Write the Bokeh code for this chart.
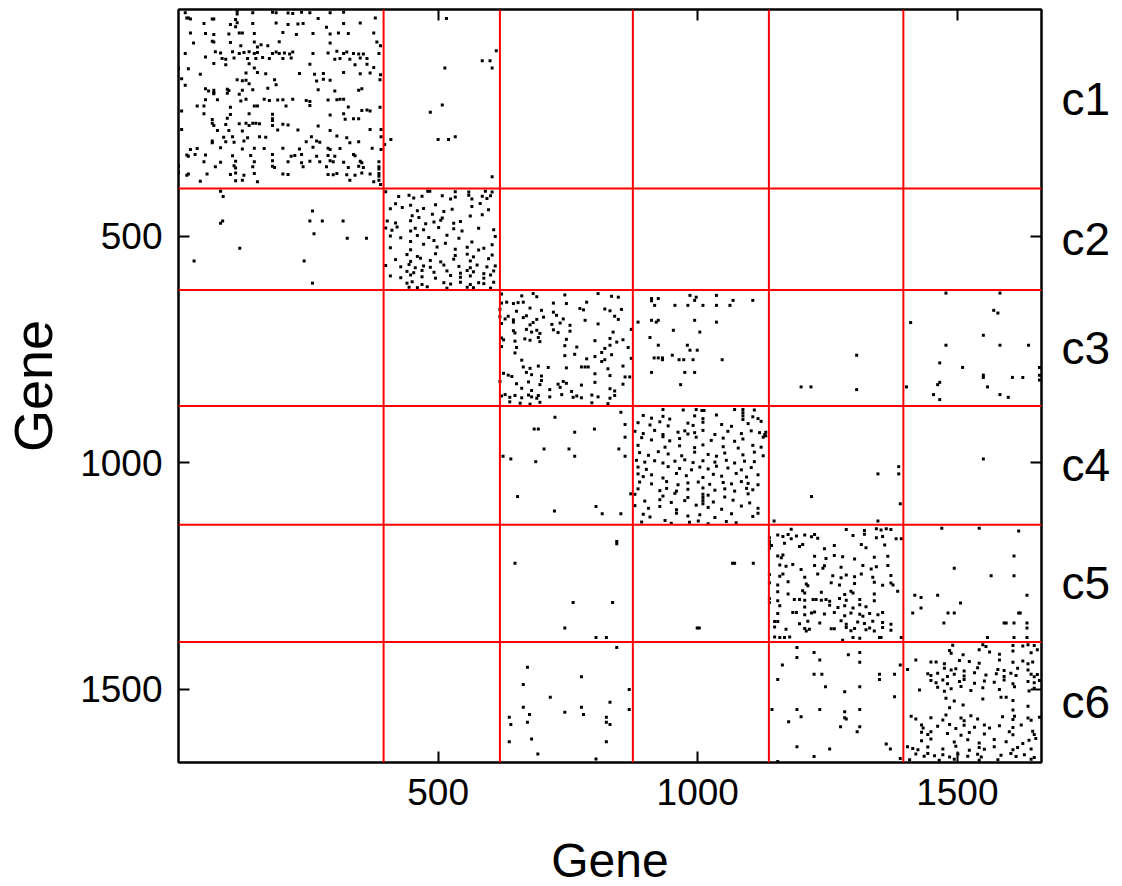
from bokeh.plotting import figure
from bokeh.models import Range1d, LinearAxis, FixedTicker, Span
from bokeh.embed import file_html
from bokeh.resources import INLINE

# ---------------- data ----------------
n_genes = 1662
boundaries = [395, 619, 875, 1137, 1396]
cluster_labels = ["c1", "c2", "c3", "c4", "c5", "c6"]
tick_values = [500, 1000, 1500]
axis_title = "Gene"

# non-zero entries (column gene, row gene), read per block
c1_c1 = [
(13,7),(113,4),(113,10),(143,7),(181,6),(188,7),(211,8),(220,9),(237,6),(253,7),(292,7),(318,6),
(16,19),(19,19),(23,21),(65,21),(68,21),(110,22),(269,20),(379,19),
(49,31),(100,33),(113,29),(143,31),(188,30),(211,33),(230,32),(240,31),(318,31),(350,30),
(110,38),(285,39),
(23,52),(52,53),(68,55),(97,54),(117,52),(123,52),(146,53),(201,51),(227,55),(259,53),(292,54),(308,52),(327,53),(376,52),
(29,74),(65,70),(68,72),(100,73),(146,72),(194,71),(292,74),(382,72),
(120,80),(159,78),(152,83),(172,80),(389,80),
(13,97),(71,93),(81,96),(104,93),(117,97),(126,95),(136,93),(146,97),(152,95),(181,97),(188,94),(194,97),(204,96),(214,98),(220,94),(259,97),(288,96),(305,92),(318,97),(324,94),(337,97),(347,98),(356,98),(386,97),
(52,105),(84,108),(91,110),(107,107),(133,108),(149,108),(162,106),(175,108),(201,108),(217,107),(301,110),(311,108),(330,110),(350,107),(363,108),
(68,119),(91,122),(136,120),(253,121),(340,122),(363,121),
(0,130),(19,131),(146,129),(376,128),
(42,143),(130,140),(152,139),(168,142),(233,141),(262,143),(279,141),(318,139),(350,142),(369,140),(389,144),
(6,153),(113,155),(123,157),(130,156),(185,155),(266,158),(279,154),(292,156),(388,155),
(13,167),(136,164),(188,166),
(52,175),(58,180),(68,178),(68,183),(94,176),(97,179),(123,178),(143,177),(172,174),(269,177),(301,180),(347,178),(353,175),
(68,186),(94,185),(117,187),
(52,199),(75,199),(120,202),(130,198),(165,198),(175,201),(191,200),(201,199),(220,198),(246,201),(253,203),(288,200),(305,199),(311,198),(318,198),
(36,213),(49,213),(100,216),(146,213),(152,213),(207,213),(253,212),(327,215),(388,216),
(6,224),(353,223),(363,222),(369,224),
(49,230),(100,232),(136,230),(181,231),(292,233),(318,230),
(65,243),(94,240),(181,241),(181,245),(321,242),(337,241),(347,241),
(65,251),(68,256),(91,254),(117,252),(130,251),(136,256),(143,251),(149,251),(156,252),(181,256),(201,253),(211,255),(269,257),
(6,265),(75,267),(97,267),(123,268),(191,266),(230,266),(292,267),(369,265),(390,265),
(87,282),(104,281),(133,283),(156,281),(168,282),(256,281),(305,279),(324,283),(390,281),
(65,290),(65,294),(91,292),(107,293),(126,290),(246,292),(266,290),(272,293),(330,294),(347,292),
(23,309),(36,307),(81,305),(123,308),(146,306),(165,307),(201,306),(233,308),(259,304),(288,306),(292,309),(311,307),(373,306),(390,309),
(16,321),(19,324),(32,320),(52,321),(104,323),(139,322),(181,320),(217,324),(224,322),(237,320),(266,324),(288,322),(301,324),(337,320),(340,323),
(49,336),(81,337),(110,335),(146,336),(181,334),(211,336),(237,338),(253,335),(272,336),(292,334),(298,336),(318,337),(350,335),(353,338),(386,336),
(0,346),(71,347),(107,345),(110,350),(143,347),(181,346),(185,349),(240,347),(285,347),(327,349),(347,346),(356,349),(386,347),(386,352),
(0,360),(19,363),(16,366),(55,363),(100,364),(110,361),(126,366),(146,362),(201,363),(211,364),(288,364),(298,365),(305,362),(324,365),(340,366),(353,361),(369,363),(386,362),(386,368),
(42,379),(110,378),(123,377),(152,380),(330,377),(376,380),(386,377),(389,386),
]
c1_c2 = [(516,20),(612,91),(585,113),(600,113),(513,129),(604,129),(508,211),(485,227),(500,287),(520,287),(533,281),(409,287),(397,298),(604,369)]
c2_c1 = [(81,401),(86,413),(258,445),(85,467),(81,472),(253,467),(277,467),(317,467),(261,495),(325,505),(362,505),(118,527),(30,555),(242,555),(258,604)]
c2_c2 = [
(399,402),(480,401),(484,401),(533,402),(559,403),(591,401),(604,403),
(424,413),(444,410),(453,416),(469,412),(508,411),(524,418),(533,414),(559,410),(565,418),(585,412),(594,417),(601,411),
(408,440),(418,429),(431,437),(447,432),(460,444),(472,439),(495,431),(511,446),(527,441),(565,435),(581,428),(597,442),
(450,455),(463,459),(489,452),(508,460),(562,456),(585,453),
(402,467),(418,471),(447,466),(476,473),(492,469),(505,465),(530,472),(543,468),
(399,482),(411,487),(421,480),(447,489),(456,483),(472,486),(501,481),(530,484),(546,489),(578,483),(607,486),
(408,500),(428,504),(460,499),(482,503),(517,498),(540,505),(610,501),
(447,512),(472,518),(492,510),(514,516),(565,513),(604,519),
(408,526),(447,530),(498,524),(533,529),(556,525),(578,531),(588,527),
(440,541),(460,545),(495,539),(533,543),(556,540),(568,546),(604,542),
(418,552),(447,556),(466,549),(485,554),(505,557),(530,551),(562,555),(597,550),
(399,565),(428,568),(444,563),(456,570),(472,566),(485,569),(511,564),(540,567),(562,570),(575,564),(594,568),(610,566),
(440,578),(453,581),(469,576),(492,580),(517,577),(543,582),(556,576),(568,579),(588,583),(607,577),
(408,588),(428,592),(447,586),(469,590),(495,593),(524,587),(543,591),(562,588),(588,593),(601,586),
(440,604),(450,601),(469,607),(511,603),(524,606),(543,602),(562,607),(578,603),(588,605),(607,602),
(444,613),(460,614),(479,612),(517,615),(556,613),(568,614),(601,615),
]
c3_c3 = [
(622,628),(661,632),(683,627),(690,634),(744,630),(808,627),(834,633),(847,635),
(622,648),(632,646),(645,649),(654,647),(664,646),(722,648),(747,649),(786,646),
(619,662),(651,666),(677,659),(699,664),(722,668),(773,660),(780,663),(821,661),(831,665),(853,662),
(619,678),(629,683),(635,677),(645,685),(664,680),(670,676),(690,684),(703,679),(728,675),(741,683),(783,686),(840,677),(847,684),
(622,693),(645,690),(677,696),(683,691),(719,695),(735,692),(754,697),(808,694),
(645,709),(648,714),(670,706),(680,712),(690,708),(696,715),(722,707),(731,713),(754,710),(837,712),(872,706),
(622,725),(626,729),(648,732),(667,727),(677,730),(693,724),(696,733),(747,728),(802,731),(831,726),(844,734),(856,729),
(622,744),(651,746),(744,742),(767,745),(821,748),(831,741),(866,746),
(648,758),(744,764),(763,761),(802,766),(815,757),(834,762),
(661,774),(786,771),(815,777),(821,773),(872,770),
(664,789),(677,792),(693,787),(712,790),(747,791),(776,789),(783,789),(789,789),(827,793),(856,787),
(626,803),(635,807),(642,810),(670,801),(680,806),(699,809),(802,804),(831,808),(860,811),(869,811),
(619,821),(651,826),(674,822),(696,828),(699,819),(731,827),(741,821),(747,825),(776,829),(802,823),(856,827),
(661,836),(680,841),(715,839),(735,834),(757,843),(831,837),(840,842),
(622,853),(629,850),(638,856),(648,852),(661,857),(674,851),(680,855),(690,858),(693,852),(715,855),(738,850),(760,856),(767,853),(776,857),(796,851),(808,855),(831,858),(840,852),
(638,866),(658,869),(677,871),(696,867),(796,868),(827,870),
]
c3_c4 = [(911,638),(911,643),(924,638),(985,631),(997,635),(994,642),(1036,631),(1068,642),(1106,642),(917,653),(956,653),(981,653),(1010,653),(1036,653),(1062,653),
(885,690),(911,686),(920,690),(924,686),(994,686),(1036,690),(953,708),(1004,712),(908,724),(924,741),(980,741),(985,752),(999,752),
(916,769),(924,769),(932,769),(932,773),(951,763),(964,773),(973,773),(991,773),(1047,773),(911,801),(975,801),(994,801),(967,828)]
c3_c5 = [(1306,763),(1199,833),(1218,833),(1306,839)]
c3_c6 = [(1478,626),(1582,626),(1570,664),(1578,670),(1410,691),(1550,719),(1478,741),(1582,741),(1637,741),(1466,780),(1510,790),(1658,790),
(1550,807),(1550,812),(1606,812),(1626,812),(1658,807),(1658,818),(1402,833),(1462,828),(1466,823),(1558,833),(1454,850),(1582,850),(1598,856),(1466,861)]
c4_c3 = [(852,889),(725,900),(685,926),(693,926),(763,933),(801,926),(860,916),(860,944),(704,970),(752,970),(848,970),(625,986),(640,992),(763,986),
(860,986),(688,998),(653,1075),(871,1069),(804,1097),(816,1113),(724,1107),(852,1113)]
c4_c4 = [
(933,883),(972,884),(997,883),(1008,885),(1012,885),(1071,883),(1087,883),(1087,890),(1087,897),(1109,884),
(895,896),(911,902),(933,898),(946,904),(994,897),(1010,903),(1036,895),(1087,905),(1106,899),(1116,903),
(885,912),(908,917),(927,910),(943,919),(981,913),(991,918),(1010,911),(1046,916),(1065,920),(1097,914),(1122,909),
(879,931),(895,936),(917,929),(933,938),(962,933),(975,930),(981,937),(994,934),(1010,929),(1033,938),(1058,931),(1084,936),(1103,930),(1119,934),(1129,938),
(892,945),(911,950),(933,943),(946,952),(965,947),(997,944),(1026,951),(1049,946),(1071,953),(1087,948),(1126,944),
(885,962),(937,966),(965,963),(994,967),(1010,961),(1049,965),(1078,968),(1106,962),(1122,966),
(888,978),(905,984),(924,976),(943,981),(969,985),(994,977),(1020,982),(1036,986),(1052,979),(1087,983),(1109,977),(1126,985),
(882,995),(898,999),(917,996),(933,1001),(956,997),(975,994),(991,1000),(1010,996),(1033,999),(1055,995),(1071,1001),(1090,997),(1109,998),
(885,1010),(901,1015),(943,1009),(965,1013),(988,1016),(1004,1010),(1020,1014),(1036,1008),(1058,1012),(1084,1016),(1103,1011),
(885,1025),(895,1031),(911,1027),(933,1034),(959,1024),(978,1029),(1010,1033),(1030,1026),(1046,1030),(1074,1024),(1094,1032),(1116,1027),
(888,1043),(911,1047),(940,1042),(962,1049),(981,1045),(1001,1043),(1023,1048),(1049,1044),(1065,1047),(1084,1042),(1097,1046),(1116,1049),
(885,1058),(927,1062),(940,1057),(959,1063),(981,1059),(1010,1056),(1033,1061),(1052,1058),(1071,1063),(1094,1057),(1106,1060),
(879,1070),(933,1074),(956,1068),(981,1077),(1010,1070),(1010,1077),(1010,1084),(1020,1072),(1052,1076),(1097,1069),
(898,1085),(927,1082),(949,1088),(975,1084),(1030,1087),(1068,1083),(1100,1089),(1010,1091),
(879,1095),(905,1101),(927,1097),(959,1104),(997,1094),(1020,1099),(1046,1103),(1084,1096),(1116,1101),
(895,1114),(908,1120),(959,1112),(981,1118),(1004,1115),(1033,1121),(1065,1113),(1106,1119),(1116,1112),
(892,1131),(937,1128),(949,1134),(984,1132),(1001,1129),(1020,1135),(1055,1130),(1074,1133),
]
c4_c5 = [(1131,933),(1131,941),(1347,1025),(1387,1009),(1387,1025),(1219,1075),(1390,1091),(1147,1129),(1347,1129)]
c4_c6 = [(1550,992)]
c5_c3 = [(844,1174),(844,1179),(648,1222),(760,1309),(836,1309),(744,1365),(804,1386),(824,1386)]
c5_c4 = [(1067,1222),(1071,1222),(1107,1222),(999,1365),(1003,1365)]
c5_c5 = [
(1180,1147),(1286,1148),(1321,1150),(1344,1146),(1353,1149),(1363,1146),(1372,1148),
(1138,1166),(1154,1160),(1164,1163),(1174,1159),(1180,1168),(1190,1162),(1206,1160),(1219,1164),(1225,1159),(1231,1167),(1299,1161),(1321,1158),(1344,1166),(1356,1163),(1382,1168),(1392,1168),
(1138,1180),(1142,1183),(1167,1178),(1196,1185),(1202,1181),(1244,1190),(1263,1183),(1315,1181),(1324,1188),(1360,1182),
(1154,1206),(1161,1210),(1164,1204),(1225,1207),(1247,1212),(1263,1205),(1279,1208),(1302,1213),(1340,1209),(1366,1207),
(1158,1226),(1170,1229),(1183,1225),(1199,1236),(1225,1227),(1241,1233),(1244,1228),(1276,1231),(1318,1227),(1334,1235),(1344,1230),(1366,1227),
(1138,1247),(1158,1251),(1164,1246),(1206,1253),(1231,1246),(1260,1250),(1276,1254),(1286,1248),(1302,1252),(1315,1246),(1337,1253),(1372,1249),
(1138,1265),(1154,1270),(1174,1263),(1209,1268),(1212,1272),(1257,1265),(1273,1270),(1302,1267),(1340,1264),(1356,1271),(1372,1266),(1376,1270),
(1154,1285),(1174,1290),(1202,1283),(1206,1288),(1238,1286),(1283,1291),(1295,1284),(1299,1288),(1340,1290),(1385,1284),
(1138,1300),(1154,1305),(1186,1302),(1196,1302),(1206,1304),(1222,1302),(1228,1302),(1238,1304),(1247,1302),(1254,1306),(1273,1300),(1286,1304),(1312,1302),(1340,1305),
(1158,1316),(1206,1319),(1254,1315),(1270,1320),(1283,1316),(1299,1321),(1312,1314),(1324,1318),
(1154,1333),(1183,1331),(1190,1331),(1206,1336),(1219,1332),(1225,1330),(1244,1334),(1263,1331),(1283,1338),(1295,1332),(1312,1335),(1318,1339),(1331,1333),(1347,1336),(1356,1331),
(1148,1351),(1154,1351),(1196,1356),(1212,1350),(1235,1354),(1276,1349),(1286,1357),(1308,1352),(1321,1355),(1337,1350),(1356,1353),(1372,1357),
(1148,1363),(1170,1368),(1206,1366),(1209,1372),(1215,1368),(1257,1367),(1263,1367),(1286,1364),(1295,1371),(1302,1366),(1324,1369),(1331,1365),(1340,1372),(1356,1364),(1372,1370),
(1148,1385),(1158,1386),(1167,1386),(1177,1385),(1279,1392),(1299,1386),(1312,1388),(1350,1386),(1353,1386),(1392,1386),
(1138,1174),(1138,1189),(1138,1309),
]
c5_c6 = [(1470,1145),(1542,1145),(1618,1151),(1609,1206),(1494,1233),(1565,1250),(1609,1250),(1418,1293),(1430,1298),(1462,1293),(1634,1293),(1506,1310),
(1430,1321),(1414,1332),(1482,1332),(1494,1332),(1618,1332),(1621,1332),(1474,1354),(1590,1354),(1594,1354),(1609,1354),(1634,1354),(1634,1365),
(1558,1386),(1609,1386),(1634,1386)]
c6_c3 = [(844,1408),(672,1452),(776,1473),(664,1490),(868,1501),(716,1518),(831,1529),(664,1540),(776,1540),(744,1551),(676,1556),(780,1556),
(637,1562),(824,1562),(868,1545),(640,1578),(672,1573),(824,1573),(831,1578),(680,1610),(637,1616),(824,1616),(692,1643),(804,1654)]
c6_c5 = [(1191,1408),(1191,1430),(1224,1419),(1290,1424),(1312,1419),(1235,1436),(1312,1441),(1163,1447),(1224,1467),(1239,1467),(1350,1467),
(1379,1467),(1154,1479),(1350,1479),(1246,1495),(1312,1495),(1283,1506),(1379,1517),(1143,1545),(1191,1545),(1235,1545),(1283,1550),(1312,1545),
(1199,1561),(1283,1563),(1286,1566),(1175,1572),(1275,1583),(1312,1583),(1307,1594),(1191,1627),(1254,1632),(1363,1621),(1371,1632),(1224,1649),
(1154,1660),(1390,1653),(1390,1447)]
c6_c6 = [
(1491,1403),(1549,1402),(1555,1406),(1607,1404),(1626,1405),(1636,1402),(1648,1404),
(1485,1415),(1488,1421),(1511,1424),(1542,1413),(1562,1418),(1581,1423),(1607,1416),(1642,1420),(1654,1413),
(1420,1436),(1449,1440),(1459,1440),(1475,1444),(1504,1437),(1523,1439),(1542,1443),(1581,1436),(1607,1441),(1626,1438),(1636,1444),(1645,1440),
(1404,1457),(1475,1454),(1488,1458),(1497,1455),(1513,1460),(1539,1453),(1578,1457),(1590,1459),(1616,1454),(1636,1458),
(1443,1466),(1449,1470),(1462,1465),(1481,1472),(1494,1467),(1513,1471),(1533,1464),(1555,1469),(1575,1466),(1590,1472),(1603,1465),(1613,1470),(1642,1467),(1648,1473),(1654,1468),
(1449,1481),(1459,1486),(1472,1480),(1481,1488),(1504,1483),(1513,1479),(1533,1487),(1552,1482),(1571,1485),(1590,1480),(1607,1488),(1636,1483),(1648,1486),(1658,1481),
(1427,1502),(1462,1496),(1475,1505),(1488,1499),(1507,1494),(1526,1503),(1549,1497),(1581,1501),(1610,1495),(1638,1504),(1648,1498),
(1478,1520),(1494,1526),(1549,1522),(1584,1518),(1594,1518),(1607,1525),
(1485,1541),(1511,1535),(1607,1546),(1636,1538),
(1411,1560),(1420,1566),(1449,1563),(1472,1568),(1478,1557),(1507,1564),(1513,1570),(1526,1559),(1539,1566),(1587,1561),(1607,1567),(1610,1560),(1636,1564),(1642,1569),(1658,1562),
(1431,1579),(1434,1586),(1462,1582),(1485,1578),(1497,1587),(1513,1580),(1533,1584),(1552,1579),(1562,1586),(1581,1581),(1607,1585),(1623,1579),
(1431,1595),(1443,1600),(1449,1594),(1481,1598),(1507,1602),(1523,1596),(1552,1599),(1600,1594),(1607,1601),(1645,1593),(1648,1600),
(1431,1614),(1449,1610),(1494,1617),(1520,1612),(1542,1619),(1571,1611),(1594,1616),(1626,1620),(1638,1613),(1651,1609),
(1404,1627),(1414,1631),(1424,1634),(1443,1628),(1472,1632),(1497,1626),(1523,1635),(1542,1629),(1552,1633),(1571,1627),(1607,1634),(1616,1629),(1642,1632),
(1420,1643),(1436,1648),(1443,1642),(1456,1647),(1472,1645),(1485,1650),(1501,1643),(1520,1648),(1539,1644),(1546,1650),(1584,1646),(1603,1642),(1613,1649),(1629,1645),(1648,1651),
(1408,1656),(1465,1657),(1494,1655),(1542,1657),(1578,1656),(1642,1655),
]

blocks = [c1_c1, c1_c2, c2_c1, c2_c2, c3_c3, c3_c4, c3_c5, c3_c6, c4_c3, c4_c4, c4_c5, c4_c6,
          c5_c3, c5_c4, c5_c5, c5_c6, c6_c3, c6_c5, c6_c6]
xs = [pt[0] for b in blocks for pt in b]
ys = [pt[1] for b in blocks for pt in b]

edges = [0] + boundaries + [n_genes]
centers = [(edges[i] + edges[i + 1]) / 2 for i in range(len(cluster_labels))]

# ---------------- figure ----------------
FONT = "Liberation Sans"
p = figure(frame_width=863, frame_height=753,
           x_range=Range1d(0, n_genes), y_range=Range1d(n_genes, 0),
           output_backend="svg", toolbar_location=None,
           min_border_left=0, min_border_right=0, min_border_top=9, min_border_bottom=0,
           background_fill_color="white", border_fill_color="white")
p.grid.visible = False
p.outline_line_color = "black"
p.outline_line_width = 2

for ax in (p.xaxis[0], p.yaxis[0]):
    ax.ticker = FixedTicker(ticks=tick_values)
    ax.major_tick_in = 11
    ax.major_tick_out = 0
    ax.minor_tick_line_color = None
    ax.major_tick_line_color = "black"
    ax.major_tick_line_width = 2
    ax.axis_line_color = "black"
    ax.axis_line_width = 2
    ax.major_label_text_font = FONT
    ax.major_label_text_font_size = "37px"
    ax.major_label_text_color = "black"
    ax.axis_label = axis_title
    ax.axis_label_text_font = FONT
    ax.axis_label_text_font_style = "normal"
    ax.axis_label_text_color = "black"

p.xaxis[0].axis_label_text_font_size = "48px"
p.yaxis[0].axis_label_text_font_size = "54px"
p.xaxis[0].major_label_standoff = 16
p.xaxis[0].axis_label_standoff = 26
p.yaxis[0].major_label_standoff = 16
p.yaxis[0].axis_label_standoff = 14

# top edge: tick marks only (no labels)
top = LinearAxis(ticker=FixedTicker(ticks=[], minor_ticks=tick_values),
                 major_tick_line_color=None, major_tick_in=0, major_tick_out=0,
                 minor_tick_in=11, minor_tick_out=0, minor_tick_line_color="black",
                 minor_tick_line_width=2, axis_line_width=2)
p.add_layout(top, "above")

# right edge: tick marks at 500/1000/1500 plus the cluster names at block centres
right = LinearAxis(ticker=FixedTicker(ticks=centers, minor_ticks=tick_values),
                   major_tick_line_color=None, major_tick_in=0, major_tick_out=0,
                   minor_tick_in=11, minor_tick_out=0, minor_tick_line_color="black",
                   minor_tick_line_width=2, axis_line_width=2,
                   major_label_overrides={c: lab for c, lab in zip(centers, cluster_labels)},
                   major_label_text_font=FONT, major_label_text_font_size="46px",
                   major_label_text_color="black", major_label_standoff=20)
p.add_layout(right, "right")

for b in boundaries:
    p.add_layout(Span(location=b, dimension="height", line_color="red", line_width=2))
    p.add_layout(Span(location=b, dimension="width", line_color="red", line_width=2))

p.scatter(xs, ys, marker="square", size=3, fill_color="black", line_color=None)

open("out.html", "w").write(file_html(p, INLINE))
